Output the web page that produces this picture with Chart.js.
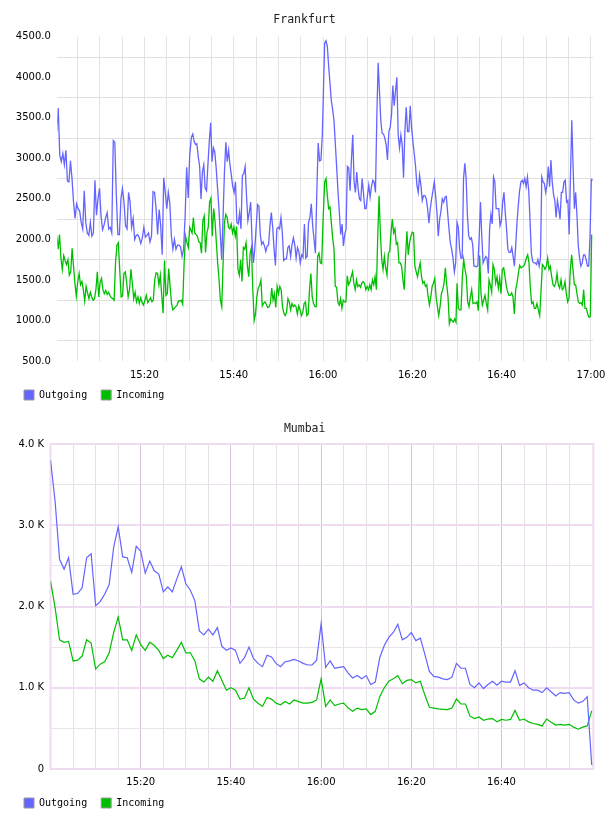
<!DOCTYPE html>
<html>
<head>
<meta charset="utf-8">
<script src="https://cdn.jsdelivr.net/npm/chart.js@4.4.0/dist/chart.umd.min.js"></script>
<style>
  html, body { margin: 0; padding: 0; background: #fff; overflow: hidden; }
  body { width: 608px; height: 816px; position: relative; }
  canvas { position: absolute; left: 0; }
  #frankfurt { top: 0; }
  #mumbai { top: 408px; }
</style>
</head>
<body>
<canvas id="frankfurt" width="608" height="410"></canvas>
<canvas id="mumbai" width="608" height="410"></canvas>
<script>
// Frankfurt: samples, in four 30-minute stretches (minutes after 15:00)
const frOutSpans = [[0.37, 30.15], [30.52, 60.15], [60.37, 89.7], [90.0, 120.37]];
const frInSpans = [[0.37, 30.15], [30.67, 60.0], [60.37, 89.77], [90.0, 120.15]];

const frOutA = [3330, 3620, 3040, 2960, 3060, 2920, 3100, 2720, 2710, 2970, 2750, 2460, 2260, 2440, 2380, 2350, 2210, 2130, 2600, 2210, 2080, 2050, 2210, 2040, 2080, 2730, 2300, 2500, 2630, 2290, 2120, 2180, 2270, 2330, 2130, 2150, 2080, 3220, 3200, 2540, 2060, 2060, 2500, 2630, 2460, 2170, 2130, 2580, 2460, 2150, 2260, 2000, 2050, 2060, 2020, 1950, 2020, 2150, 2030, 2050, 2080, 1970, 2040, 2590, 2580, 2380, 2060, 2370, 2170, 1810, 2760, 2580, 2380, 2580, 2440, 2040, 1880, 2000, 1880, 1930, 1930, 1910, 1790, 1880, 2290, 2890, 2510, 3040];
const frOutB = [3260, 3300, 3210, 3170, 3180, 3020, 2900, 2500, 2830, 2920, 2630, 2600, 2920, 3210, 3440, 2960, 3130, 3080, 2880, 2630, 2380, 2060, 1750, 2290, 2830, 3200, 2960, 3100, 2920, 2790, 2650, 2580, 2710, 2210, 2190, 2330, 2130, 2790, 2810, 2900, 2540, 2230, 2330, 2460, 2000, 1710, 1880, 2150, 2430, 2410, 2060, 1940, 1970, 1920, 1850, 1920, 1930, 2170, 2330, 2150, 1880, 1680, 2130, 2150, 2130, 2270, 2080, 1740, 1760, 1760, 1900, 1920, 1790, 1930, 2020, 1940, 1770, 1900, 1850, 1710, 1810, 1780, 2190, 1770, 1790, 2210, 2270, 2440, 2170, 2000, 1830, 2580, 3190, 2970, 2980, 3290, 3960];
const frOutC = [4420, 4450, 4380, 4130, 3920, 3710, 3600, 3460, 3170, 2880, 2580, 2330, 2060, 2190, 1920, 2060, 2130, 2900, 2880, 2600, 2980, 3290, 2710, 2580, 2830, 2630, 2500, 2480, 2750, 2580, 2380, 2380, 2540, 2670, 2520, 2650, 2730, 2710, 2580, 3500, 4180, 3830, 3460, 3310, 3300, 3250, 3170, 2980, 3330, 3380, 3540, 3900, 3650, 3830, 4000, 3290, 3130, 3290, 3170, 2760, 3330, 3630, 3330, 3330, 3650, 3380, 3210, 3060, 2900, 2670, 2580, 2790, 2670, 2480, 2540, 2540, 2500, 2380, 2200, 2380, 2500, 2600, 2710, 2540, 2330, 2040, 2250, 2350, 2500, 2460, 2520, 2530, 2330, 2130, 1960, 1880, 1770, 1600, 1710];
const frOutD = [2210, 2150, 1880, 1770, 1770, 2750, 2940, 2750, 2290, 2040, 2000, 2020, 1940, 1670, 1670, 1660, 1680, 2020, 2460, 2040, 1710, 1750, 1790, 1770, 1580, 2130, 2310, 2190, 2770, 2710, 2380, 2380, 2380, 2170, 2230, 2460, 2580, 2330, 2130, 1880, 1840, 1840, 1900, 1790, 1670, 1920, 2210, 2420, 2600, 2710, 2730, 2690, 2750, 2650, 2770, 2600, 2230, 1830, 1730, 1710, 1710, 1690, 1750, 1670, 1770, 2770, 2710, 2690, 2580, 2670, 2900, 2650, 2980, 2710, 2560, 2480, 2270, 2480, 2380, 2250, 2580, 2580, 2710, 2730, 2460, 2480, 2060, 2790, 3470, 2900, 2380, 2580, 2290, 1920, 1770, 1670, 1710, 1810, 1810, 1750, 1670, 1670, 2040, 2740, 2730];

const frInA = [2050, 1880, 2060, 1770, 1630, 1800, 1740, 1690, 1750, 1560, 1600, 1890, 1670, 1460, 1300, 1480, 1580, 1440, 1480, 1380, 1240, 1420, 1340, 1270, 1350, 1290, 1250, 1270, 1380, 1600, 1290, 1470, 1520, 1380, 1330, 1370, 1320, 1350, 1310, 1280, 1270, 1250, 1710, 1930, 1960, 1630, 1290, 1300, 1580, 1600, 1460, 1290, 1380, 1630, 1460, 1270, 1350, 1230, 1290, 1210, 1280, 1220, 1190, 1250, 1310, 1220, 1250, 1280, 1230, 1250, 1500, 1590, 1580, 1440, 1560, 1310, 1090, 1740, 1310, 1330, 1640, 1420, 1210, 1130, 1150, 1170, 1190, 1240, 1240, 1250, 1200, 1710, 2040, 1960, 1900, 2150];
const frInB = [2080, 2270, 2080, 2060, 2040, 1970, 1960, 1830, 2230, 2290, 1840, 2080, 2150, 2460, 2510, 2040, 2380, 2230, 1960, 1710, 1500, 1250, 1170, 1710, 2210, 2310, 2270, 2150, 2130, 2190, 2080, 2150, 2040, 2160, 1630, 1560, 1750, 1480, 1900, 1880, 1960, 1670, 1540, 1830, 1900, 1380, 1000, 1080, 1290, 1400, 1430, 1500, 1180, 1210, 1230, 1200, 1160, 1170, 1210, 1400, 1250, 1330, 1160, 1420, 1330, 1420, 1380, 1170, 1090, 1060, 1100, 1270, 1230, 1130, 1210, 1170, 1190, 1170, 1080, 1180, 1130, 1060, 1100, 1210, 1230, 1060, 1080, 1380, 1580, 1290, 1210, 1170, 1170, 1790, 1830, 1710, 1700, 2230];
const frInC = [2710, 2750, 2540, 2380, 2400, 2210, 2020, 1880, 1420, 1410, 1220, 1190, 1270, 1150, 1250, 1230, 1230, 1550, 1440, 1470, 1540, 1600, 1460, 1380, 1500, 1420, 1440, 1410, 1460, 1480, 1460, 1380, 1420, 1380, 1440, 1380, 1500, 1440, 1540, 1380, 2040, 2540, 2080, 1750, 1630, 1790, 1650, 1560, 1830, 1850, 2080, 2250, 2080, 2130, 1940, 1960, 1710, 1710, 1670, 1500, 1380, 1790, 2100, 1810, 1960, 2040, 2090, 2080, 1670, 1600, 1540, 1630, 1710, 1540, 1460, 1480, 1420, 1440, 1290, 1190, 1290, 1420, 1460, 1520, 1290, 1170, 1060, 1170, 1330, 1380, 1460, 1650, 1440, 1290, 960, 1020, 1000, 980, 1020, 980];
const frInD = [1460, 1150, 1130, 1130, 1540, 1750, 1630, 1540, 1230, 1170, 1290, 1380, 1210, 1220, 1210, 1230, 1120, 1800, 1330, 1190, 1250, 1310, 1210, 1130, 1500, 1440, 1350, 1690, 1630, 1460, 1540, 1400, 1520, 1330, 1630, 1650, 1540, 1420, 1350, 1310, 1310, 1340, 1290, 1080, 1380, 1460, 1580, 1680, 1650, 1660, 1670, 1710, 1770, 1810, 1710, 1400, 1210, 1230, 1150, 1150, 1210, 1130, 1060, 1350, 1690, 1670, 1630, 1670, 1770, 1630, 1670, 1540, 1440, 1420, 1460, 1580, 1440, 1400, 1500, 1380, 1400, 1480, 1330, 1230, 1270, 1630, 1810, 1630, 1440, 1440, 1330, 1230, 1210, 1220, 1190, 1380, 1150, 1150, 1080, 1040, 1050, 2060];

// Mumbai: one sample per minute, 15:00 .. 17:00
const muOut = [3800, 3300, 2580, 2460, 2600, 2150, 2160, 2230, 2600, 2650, 2010, 2060, 2150, 2270, 2730, 2980, 2610, 2600, 2420, 2740, 2680, 2410, 2560, 2440, 2400, 2180, 2240, 2180, 2340, 2490, 2280, 2200, 2070, 1700, 1650, 1720, 1650, 1740, 1510, 1460, 1490, 1460, 1300, 1370, 1500, 1360, 1300, 1260, 1400, 1380, 1300, 1260, 1320, 1330, 1350, 1330, 1300, 1280, 1280, 1340, 1790, 1250, 1330, 1240, 1250, 1260, 1180, 1120, 1150, 1110, 1150, 1040, 1070, 1370, 1520, 1620, 1680, 1780, 1590, 1620, 1680, 1580, 1610, 1410, 1200, 1140, 1130, 1110, 1100, 1130, 1300, 1240, 1240, 1040, 1000, 1060, 990, 1040, 1080, 1030, 1080, 1070, 1070, 1210, 1030, 1060, 1000, 970, 970, 940, 1000, 950, 900, 940, 930, 940, 850, 810, 830, 890, 50];
const muIn = [2310, 1990, 1590, 1560, 1570, 1330, 1340, 1390, 1590, 1550, 1230, 1290, 1320, 1430, 1680, 1870, 1590, 1590, 1460, 1650, 1530, 1460, 1560, 1520, 1460, 1360, 1400, 1370, 1460, 1560, 1430, 1430, 1330, 1110, 1070, 1130, 1080, 1210, 1090, 970, 1000, 970, 860, 870, 1000, 860, 810, 770, 880, 860, 810, 790, 830, 800, 850, 830, 810, 810, 820, 850, 1110, 770, 850, 780, 800, 810, 750, 710, 750, 730, 740, 670, 710, 890, 1000, 1080, 1110, 1150, 1050, 1090, 1100, 1060, 1080, 910, 760, 750, 740, 735, 730, 750, 860, 800, 800, 650, 620, 640, 600, 615, 620, 580, 610, 600, 610, 720, 600, 615, 580, 560, 550, 530, 615, 575, 540, 550, 540, 550, 515, 490, 515, 530, 715];

// axis ticks
const gridMinutes = [5, 10, 15, 20, 25, 30, 35, 40, 45, 50, 55, 60, 65, 70, 75, 80, 85, 90, 95, 100, 105, 110, 115, 120];
const timeTickMinutes = [20, 40, 60, 80, 100, 120];
const timeTickLabels = ["15:20", "15:40", "16:00", "16:20", "16:40", "17:00"];
const muYTickValues = [0, 1000, 2000, 3000, 4000];
const muYTickLabels = ["0", "1.0 K", "2.0 K", "3.0 K", "4.0 K"];

const OUT_COLOR = "#6464ff";
const IN_COLOR = "#00bf00";
const tickFont = { family: "DejaVu Sans", size: 10 };
const monoFont = { family: "DejaVu Sans Mono", size: 10 };
const PAD_LEFT = 16;

function spread(values, span) {
  const [t0, t1] = span;
  return values.map((v, i) => ({ x: t0 + ((t1 - t0) * i) / (values.length - 1), y: v }));
}

function timeLabel(v) {
  const i = timeTickMinutes.indexOf(v);
  return i >= 0 ? timeTickLabels[i] : "";
}

// draws the frame around the Mumbai plot
const framePlugin = {
  id: "frame",
  beforeDatasetsDraw(chart, args, opts) {
    if (!opts.color) return;
    const a = chart.chartArea;
    const ctx = chart.ctx;
    ctx.save();
    ctx.strokeStyle = opts.color;
    ctx.lineWidth = opts.width;
    ctx.strokeRect(a.left, a.top, a.right - a.left, a.bottom - a.top);
    ctx.restore();
  },
};

function makeChart(id, o) {
  return new Chart(document.getElementById(id), {
    type: "line",
    data: {
      datasets: [
        { label: "Outgoing", data: o.out, borderColor: OUT_COLOR, backgroundColor: OUT_COLOR, borderWidth: o.lineWidth, pointRadius: 0, tension: 0 },
        { label: "Incoming", data: o.inc, borderColor: IN_COLOR, backgroundColor: IN_COLOR, borderWidth: o.lineWidth, pointRadius: 0, tension: 0 },
      ],
    },
    options: {
      responsive: false,
      animation: false,
      devicePixelRatio: 1,
      layout: { padding: { left: PAD_LEFT, right: o.padRight, top: 0, bottom: 0 } },
      plugins: {
        frame: { color: o.frame, width: 2 },
        tooltip: { enabled: false },
        title: {
          display: true,
          text: o.title,
          color: "#222",
          font: { family: "DejaVu Sans Mono", size: 11.5, weight: "normal" },
          padding: { top: o.titleTop, bottom: o.titleBottom },
        },
        legend: {
          position: "bottom",
          align: "start",
          labels: {
            boxWidth: 10,
            boxHeight: 10,
            padding: 8,
            color: "#000",
            font: monoFont,
            // trailing space widens the gap between the two entries
            generateLabels: (chart) =>
              chart.data.datasets.map((ds, i) => ({
                text: ds.label + " ",
                fillStyle: ds.borderColor,
                strokeStyle: "#999",
                lineWidth: 1,
                hidden: false,
                datasetIndex: i,
              })),
          },
        },
      },
      scales: {
        x: {
          type: "linear",
          min: o.xMin,
          max: o.xMax,
          afterBuildTicks: (s) => {
            s.ticks = o.xGrid.map((v) => ({ value: v }));
          },
          afterFit: (s) => {
            s.height = 21;
            s.paddingLeft = 0;
            s.paddingRight = 0;
          },
          ticks: { autoSkip: false, maxRotation: 0, minRotation: 0, padding: o.xPad, color: "#000", font: tickFont, callback: timeLabel },
          grid: { drawTicks: false, color: o.xGridColor, lineWidth: 1 },
          border: { display: false },
        },
        y: {
          min: o.yMin,
          max: o.yMax,
          afterFit: (s) => {
            s.width = o.plotLeft - PAD_LEFT;
          },
          ticks: { stepSize: 500, padding: 6.5, color: "#000", font: tickFont, callback: o.yLabel },
          grid: { drawTicks: false, offset: o.yGridOffset, color: o.yGridColor, lineWidth: o.yGridWidth },
          border: { display: false },
        },
      },
    },
    plugins: [framePlugin],
  });
}

makeChart("frankfurt", {
  title: "Frankfurt",
  out: [frOutA, frOutB, frOutC, frOutD].flatMap((vals, i) => spread(vals, frOutSpans[i])),
  inc: [frInA, frInB, frInC, frInD].flatMap((vals, i) => spread(vals, frInSpans[i])),
  lineWidth: 1.3,
  padRight: 15,
  titleTop: 13,
  titleBottom: 10,
  xMin: 0.5,
  xMax: 120.45,
  xGrid: gridMinutes,
  xPad: 8,
  xGridColor: "#e3e3e3",
  yMin: 500,
  yMax: 4500,
  plotLeft: 57.3,
  yLabel: (v) => v.toFixed(1),
  yGridOffset: true,
  yGridColor: "#e0e0e0",
  yGridWidth: 1,
  frame: null,
});

makeChart("mumbai", {
  title: "Mumbai",
  out: muOut.map((v, i) => ({ x: i, y: v })),
  inc: muIn.map((v, i) => ({ x: i, y: v })),
  lineWidth: 1.2,
  padRight: 14.7,
  titleTop: 14,
  titleBottom: 8.2,
  xMin: 0,
  xMax: 120.35,
  xGrid: gridMinutes.slice(0, -1),
  xPad: 7,
  xGridColor: (c) => (c.tick && c.tick.value % 20 === 0 ? "#d9bdd9" : "#e8dfe8"),
  yMin: 0,
  yMax: 4000,
  plotLeft: 50.55,
  yLabel: (v) => {
    const i = muYTickValues.indexOf(v);
    return i >= 0 ? muYTickLabels[i] : "";
  },
  yGridOffset: false,
  yGridColor: (c) => (c.tick && c.tick.value % 1000 === 0 ? "#f0dcf0" : "#ebe3eb"),
  yGridWidth: (c) => (c.tick && c.tick.value % 1000 === 0 ? 2 : 1),
  frame: "#f0dcf0",
});
</script>
</body>
</html>
